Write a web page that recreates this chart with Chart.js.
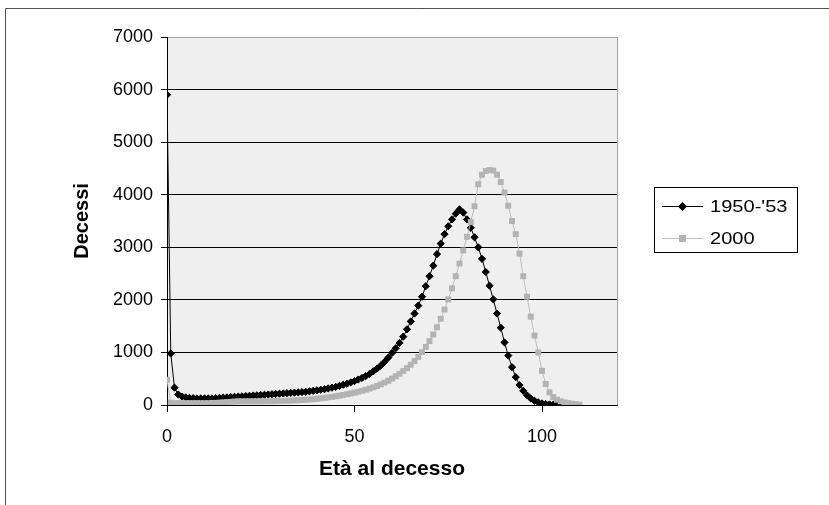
<!DOCTYPE html>
<html lang="it">
<head>
<meta charset="utf-8">
<title>Decessi per età</title>
<script src="https://cdn.jsdelivr.net/npm/chart.js@4.4.1/dist/chart.umd.min.js"></script>
<style>
  html, body { margin: 0; padding: 0; background: #ffffff; }
  #wrap { position: relative; width: 829px; height: 505px; }
  canvas { display: block; }
</style>
</head>
<body>
<div id="wrap"><canvas id="chart" width="829" height="505"></canvas></div>
<script>
// Età al decesso (anni)
const ages = [
  0, 1, 2, 3, 4, 5, 6, 7, 8, 9, 10, 11, 12, 13, 14, 15, 16, 17, 18, 19,
  20, 21, 22, 23, 24, 25, 26, 27, 28, 29, 30, 31, 32, 33, 34, 35, 36, 37, 38, 39,
  40, 41, 42, 43, 44, 45, 46, 47, 48, 49, 50, 51, 52, 53, 54, 55, 56, 57, 58, 59,
  60, 61, 62, 63, 64, 65, 66, 67, 68, 69, 70, 71, 72, 73, 74, 75, 76, 77, 78, 79,
  80, 81, 82, 83, 84, 85, 86, 87, 88, 89, 90, 91, 92, 93, 94, 95, 96, 97, 98, 99,
  100, 101, 102, 103, 104, 105, 106, 107, 108, 109, 110
];

// Decessi della tavola 1950-'53 (età 0-106)
const deaths1950 = [
  5900, 980, 330, 200, 160, 145, 135, 130, 125, 125, 125, 125, 125, 130, 135, 140, 145, 150, 155, 160,
  165, 170, 175, 180, 185, 190, 195, 200, 205, 210, 215, 220, 225, 230, 235, 240, 245, 250, 260, 270,
  280, 290, 300, 315, 330, 345, 365, 385, 405, 430, 455, 485, 515, 550, 590, 640, 690, 750, 820, 900,
  990, 1080, 1180, 1300, 1440, 1590, 1740, 1890, 2060, 2260, 2450, 2650, 2870, 3070, 3250, 3400, 3530, 3640, 3720, 3660,
  3530, 3370, 3190, 3000, 2780, 2530, 2270, 2010, 1740, 1470, 1190, 940, 720, 530, 380, 270, 185, 125, 80, 50,
  30, 18, 10, 6, 3, 2, 1
];

// Decessi della tavola 2000 (età 0-110)
const deaths2000 = [
  480, 45, 35, 35, 35, 35, 35, 35, 35, 35, 35, 35, 40, 40, 45, 50, 55, 60, 65, 70,
  70, 70, 70, 70, 70, 70, 70, 70, 72, 74, 76, 78, 80, 83, 86, 90, 95, 100, 105, 110,
  118, 126, 135, 145, 155, 166, 178, 192, 206, 220, 236, 252, 270, 290, 312, 336, 362, 392, 425, 462,
  502, 546, 594, 646, 702, 765, 835, 915, 1005, 1105, 1215, 1340, 1480, 1640, 1815, 2010, 2220, 2450, 2690, 2940,
  3200, 3480, 3780, 4200, 4380, 4450, 4470, 4460, 4380, 4240, 4040, 3790, 3500, 3250, 2880, 2450, 2060, 1680, 1320, 1000,
  650, 400, 240, 150, 100, 70, 50, 35, 24, 15, 8
];

const seriesNames = ["1950-'53", "2000"];
const xTicks = [0, 50, 100];
const yTicks = [0, 1000, 2000, 3000, 4000, 5000, 6000, 7000];
const xTitle = 'Età al decesso';
const yTitle = 'Decessi';

const FONT = "'Liberation Sans', Arial, sans-serif";
const BLACK = '#000000';
const GREY_LINE = '#bdbdbd';
const GREY_MARK = '#b3b3b3';

const toPoints = (values) => values.map((v, i) => ({ x: ages[i], y: v }));

// Outer frame, plot background and the grey plot-area edge
const framePlugin = {
  id: 'frame',
  beforeDraw(chart) {
    const { ctx, chartArea: a } = chart;
    ctx.save();
    ctx.fillStyle = '#ffffff';
    ctx.fillRect(0, 0, chart.width, chart.height);
    ctx.strokeStyle = '#505050';
    ctx.lineWidth = 1;
    ctx.beginPath();
    ctx.moveTo(5.5, chart.height);
    ctx.lineTo(5.5, 8.5);
    ctx.lineTo(chart.width, 8.5);
    ctx.stroke();
    ctx.fillStyle = '#efefef';
    ctx.fillRect(a.left, a.top, a.right - a.left, a.bottom - a.top);
    ctx.strokeStyle = '#a6a6a6';
    ctx.beginPath();
    ctx.moveTo(Math.round(a.right) + 0.5, a.top);
    ctx.lineTo(Math.round(a.right) + 0.5, a.bottom);
    ctx.stroke();
    ctx.restore();
  }
};

// Boxed legend at the right of the plot: line sample with its marker, then the name
const boxLegendPlugin = {
  id: 'boxLegend',
  afterDraw(chart) {
    const { ctx } = chart;
    const box = { x: 654.5, y: 187.5, w: 143, h: 65 };
    ctx.save();
    ctx.strokeStyle = BLACK;
    ctx.lineWidth = 1;
    ctx.strokeRect(box.x, box.y, box.w, box.h);
    const rows = [206.5, 238.5];
    chart.data.datasets.forEach((ds, i) => {
      const y = rows[i];
      ctx.strokeStyle = ds.borderColor;
      ctx.lineWidth = 1;
      ctx.beginPath();
      ctx.moveTo(662, y);
      ctx.lineTo(703, y);
      ctx.stroke();
      const cx = 682.5;
      ctx.fillStyle = ds.pointBackgroundColor;
      ctx.beginPath();
      if (ds.pointStyle === 'rectRot') {
        const r = 4.5;
        ctx.moveTo(cx - r, y);
        ctx.lineTo(cx, y - r);
        ctx.lineTo(cx + r, y);
        ctx.lineTo(cx, y + r);
        ctx.closePath();
      } else {
        ctx.rect(cx - 3.5, y - 3.5, 7, 7);
      }
      ctx.fill();
      // legend names are set a little wider than the regular face
      ctx.fillStyle = BLACK;
      ctx.font = `17px ${FONT}`;
      ctx.textBaseline = 'middle';
      ctx.textAlign = 'left';
      ctx.save();
      ctx.translate(710, y + 1);
      ctx.scale(1.18, 1);
      ctx.fillText(ds.label, 0, 0);
      ctx.restore();
    });
    ctx.restore();
  }
};

new Chart(document.getElementById('chart'), {
  type: 'line',
  data: {
    datasets: [
      {
        label: seriesNames[0],
        data: toPoints(deaths1950),
        borderColor: BLACK,
        borderWidth: 1,
        pointStyle: 'rectRot',
        pointRadius: 3.6,
        pointBackgroundColor: BLACK,
        pointBorderColor: BLACK,
        pointBorderWidth: 1,
        tension: 0,
        order: 2
      },
      {
        label: seriesNames[1],
        data: toPoints(deaths2000),
        borderColor: GREY_LINE,
        borderWidth: 1,
        pointStyle: 'rect',
        pointRadius: 4.2,
        pointBackgroundColor: GREY_MARK,
        pointBorderColor: GREY_MARK,
        pointBorderWidth: 0,
        tension: 0,
        order: 1
      }
    ]
  },
  options: {
    responsive: false,
    animation: false,
    devicePixelRatio: 1,
    layout: { padding: { left: 0, right: 212, top: 37, bottom: 0 } },
    plugins: {
      legend: { display: false },
      tooltip: { enabled: false }
    },
    scales: {
      x: {
        type: 'linear',
        min: 0,
        max: 120,
        afterBuildTicks: (scale) => { scale.ticks = xTicks.map(v => ({ value: v })); },
        afterFit: (scale) => { scale.height = 100; },
        ticks: {
          color: BLACK,
          font: { family: FONT, size: 18 },
          padding: 14,
          maxRotation: 0,
          callback: (v) => String(v)
        },
        grid: {
          drawOnChartArea: false,
          drawTicks: true,
          tickLength: 7,
          tickColor: BLACK
        },
        border: { color: BLACK, width: 1 },
        title: {
          display: true,
          text: xTitle,
          color: BLACK,
          font: { family: FONT, size: 21, weight: 'bold' },
          padding: { top: 0, bottom: 23 }
        }
      },
      y: {
        min: 0,
        max: 7000,
        afterBuildTicks: (scale) => { scale.ticks = yTicks.map(v => ({ value: v })); },
        afterFit: (scale) => { scale.width = 167; },
        ticks: {
          color: BLACK,
          font: { family: FONT, size: 18 },
          padding: 8,
          callback: (v) => String(v)
        },
        grid: {
          color: (c) => (c.tick && c.tick.value === 7000 ? '#a6a6a6' : BLACK),
          lineWidth: 1,
          drawTicks: true,
          tickLength: 6,
          tickColor: BLACK
        },
        border: { color: BLACK, width: 1 },
        title: {
          display: true,
          text: yTitle,
          color: BLACK,
          font: { family: FONT, size: 20, weight: 'bold' },
          padding: { top: 70, bottom: 0 }
        }
      }
    }
  },
  plugins: [framePlugin, boxLegendPlugin]
});
</script>
</body>
</html>
